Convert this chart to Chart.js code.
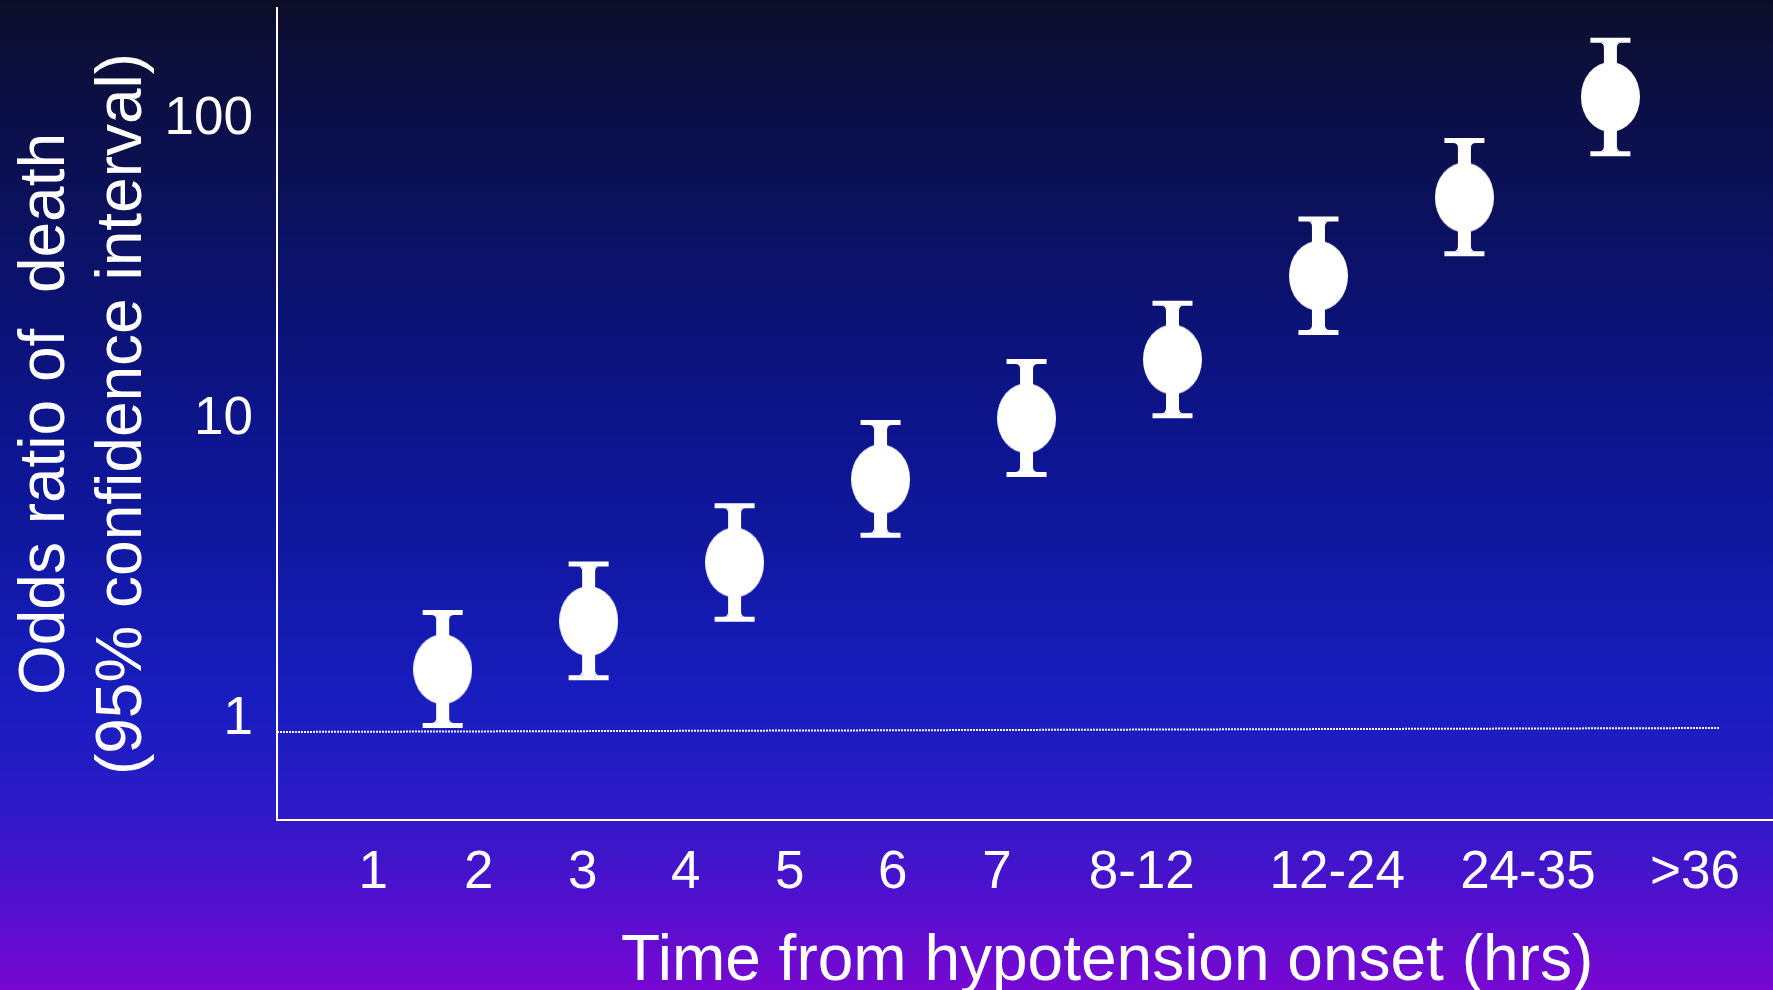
<!DOCTYPE html>
<html>
<head>
<meta charset="utf-8">
<title>Odds ratio of death by time from hypotension onset</title>
<script src="https://cdn.jsdelivr.net/npm/chart.js@4.4.1/dist/chart.umd.min.js"></script>
<style>
  html, body { margin: 0; padding: 0; background: #0c0e28; overflow: hidden; }
  #wrap { width: 1773px; height: 990px; }
  canvas { display: block; }
</style>
</head>
<body>
<div id="wrap"><canvas id="chart" width="1773" height="990"></canvas></div>
<script>
// Time bins (hours since hypotension onset) printed under the axis
const timeLabels = ['1', '2', '3', '4', '5', '6', '7', '8-12', '12-24', '24-35', '>36'];
// Where each time label sits along the axis, in marker slots
const timeLabelSlots = [0.525, 1.247, 1.96, 2.666, 3.378, 4.084, 4.797, 5.789, 7.129, 8.435, 9.579];

// Odds ratio of death and its 95% confidence interval, one entry per marker
const oddsRatio = [1.41, 2.04, 3.20, 6.06, 9.68, 15.2, 28.9, 52.7, 114];
const ciLower   = [0.915, 1.32, 2.07, 3.94, 6.29, 9.86, 18.7, 34.2, 73.7];
const ciUpper   = [2.18, 3.16, 4.94, 9.37, 14.96, 23.4, 44.7, 81.6, 176];

// Log-axis tick values
const oddsTicks = [1, 10, 100];

// Dotted reference level drawn just under the first interval
const refLineOdds = [0.871, 0.898];

const FONT = "'Liberation Sans', Arial, Helvetica, sans-serif";
const WHITE = '#ffffff';

// Axis extents (marker slots horizontally, odds ratio vertically)
const X_MIN = -0.135, X_MAX = 10.114, REF_END = 9.75;
const Y_MIN = 0.4432, Y_MAX = 225.6;

// White oval used as the point marker
function ovalMarker(w, h) {
  const c = document.createElement('canvas');
  c.width = w; c.height = h;
  const g = c.getContext('2d');
  g.fillStyle = WHITE;
  g.beginPath();
  g.ellipse(w / 2, h / 2, w / 2, h / 2, 0, 0, Math.PI * 2);
  g.fill();
  return c;
}

// Slide-style background: dark navy at the top fading to violet at the bottom
const slideBackground = {
  id: 'slideBackground',
  beforeDraw(chart) {
    const { ctx, width, height } = chart;
    const g = ctx.createLinearGradient(0, 0, 0, height);
    g.addColorStop(0.00, '#0c0e28');
    g.addColorStop(0.05, '#0c0f38');
    g.addColorStop(0.15, '#0b104f');
    g.addColorStop(0.30, '#0b1270');
    g.addColorStop(0.45, '#0d1590');
    g.addColorStop(0.55, '#1018a0');
    g.addColorStop(0.65, '#151bb4');
    g.addColorStop(0.72, '#1a1dc0');
    g.addColorStop(0.80, '#2a1bc6');
    g.addColorStop(0.86, '#3d16ca');
    g.addColorStop(0.92, '#550fce');
    g.addColorStop(1.00, '#7808d2');
    ctx.save();
    ctx.fillStyle = g;
    ctx.fillRect(0, 0, width, height);
    ctx.restore();
  }
};

// I-beam confidence intervals with flared stems, drawn from ciLower / ciUpper
function drawIBeam(ctx, cx, top, bot) {
  const capHalf = 20, capHalfT = 2.5, stemHalf = 6.5, fillet = 5;
  ctx.beginPath();
  ctx.rect(cx - capHalf, top - capHalfT, capHalf * 2, capHalfT * 2);
  ctx.rect(cx - capHalf, bot - capHalfT, capHalf * 2, capHalfT * 2);
  ctx.rect(cx - stemHalf, top, stemHalf * 2, bot - top);
  ctx.fill();
  const yTop = top + capHalfT, yBot = bot - capHalfT;
  [-1, 1].forEach(side => {
    const sx = cx + side * stemHalf;
    const fx = sx + side * fillet;
    ctx.beginPath();
    ctx.moveTo(fx, yTop);
    ctx.lineTo(sx, yTop);
    ctx.lineTo(sx, yTop + fillet);
    ctx.quadraticCurveTo(sx, yTop, fx, yTop);
    ctx.fill();
    ctx.beginPath();
    ctx.moveTo(fx, yBot);
    ctx.lineTo(sx, yBot);
    ctx.lineTo(sx, yBot - fillet);
    ctx.quadraticCurveTo(sx, yBot, fx, yBot);
    ctx.fill();
  });
}

const ciBars = {
  id: 'ciBars',
  beforeDatasetsDraw(chart) {
    const { ctx, scales: { x, y } } = chart;
    ctx.save();
    ctx.fillStyle = WHITE;
    oddsRatio.forEach((v, i) => {
      const px = x.getPixelForValue(i + 1);
      drawIBeam(ctx, px, y.getPixelForValue(ciUpper[i]), y.getPixelForValue(ciLower[i]));
    });
    ctx.restore();
  }
};

// Horizontal axis caption, set under the tick row
const xCaption = {
  id: 'xCaption',
  afterDraw(chart, args, opts) {
    const { ctx, scales: { x } } = chart;
    ctx.save();
    ctx.font = `${opts.size}px ${FONT}`;
    ctx.fillStyle = opts.color;
    ctx.textAlign = 'center';
    ctx.textBaseline = 'alphabetic';
    ctx.fillText(opts.text, x.getPixelForValue(opts.at), chart.height - opts.bottom);
    ctx.restore();
  }
};

// Fixed scale boxes: no extra room reserved for overhanging labels
function fixBox(s, size) {
  if (s.isHorizontal()) s.height = size; else s.width = size;
  s.paddingTop = 0;
  s.paddingBottom = 0;
  s.paddingLeft = 0;
  s.paddingRight = 0;
}

new Chart(document.getElementById('chart'), {
  type: 'scatter',
  data: {
    datasets: [
      {
        label: 'Odds ratio',
        data: oddsRatio.map((v, i) => ({ x: i + 1, y: v })),
        pointStyle: ovalMarker(59, 70),
        pointRadius: 30,
        pointHoverRadius: 30,
        showLine: false,
        clip: false
      },
      {
        label: 'Reference',
        data: [{ x: X_MIN, y: refLineOdds[0] }, { x: REF_END, y: refLineOdds[1] }],
        showLine: true,
        borderColor: 'rgba(255,255,255,0.95)',
        borderWidth: 2,
        borderDash: [2, 1],
        pointRadius: 0,
        fill: false
      }
    ]
  },
  options: {
    responsive: false,
    devicePixelRatio: 1,
    animation: false,
    events: [],
    layout: { autoPadding: false, padding: { top: 8, right: 0, bottom: 0, left: 0 } },
    plugins: {
      legend: { display: false },
      tooltip: { enabled: false },
      xCaption: { text: 'Time from hypotension onset (hrs)', at: 5.552, bottom: 10, size: 64, color: WHITE }
    },
    scales: {
      x: {
        type: 'linear',
        position: 'bottom',
        min: X_MIN,
        max: X_MAX,
        bounds: 'data',
        afterBuildTicks: s => { s.ticks = timeLabelSlots.map(v => ({ value: v })); },
        afterFit: s => fixBox(s, 170),
        grid: { display: false, drawTicks: false },
        border: { display: true, color: WHITE, width: 2 },
        ticks: {
          autoSkip: false,
          maxRotation: 0,
          padding: 22,
          color: WHITE,
          font: { family: FONT, size: 53, lineHeight: 1.2 },
          callback: (v, i) => timeLabels[i]
        }
      },
      y: {
        type: 'logarithmic',
        position: 'left',
        min: Y_MIN,
        max: Y_MAX,
        bounds: 'data',
        afterBuildTicks: s => { s.ticks = oddsTicks.map(v => ({ value: v })); },
        afterFit: s => fixBox(s, 277),
        grid: { display: false, drawTicks: false },
        border: { display: true, color: WHITE, width: 2 },
        ticks: {
          autoSkip: false,
          padding: 24,
          labelOffset: 5,
          color: WHITE,
          font: { family: FONT, size: 53 },
          callback: v => String(v)
        },
        title: {
          display: true,
          text: ['Odds ratio of  death', '(95% confidence interval)'],
          color: WHITE,
          font: { family: FONT, size: 64, lineHeight: 1.2 },
          padding: { top: 8, bottom: 0 }
        }
      }
    }
  },
  plugins: [slideBackground, ciBars, xCaption]
});
</script>
</body>
</html>
